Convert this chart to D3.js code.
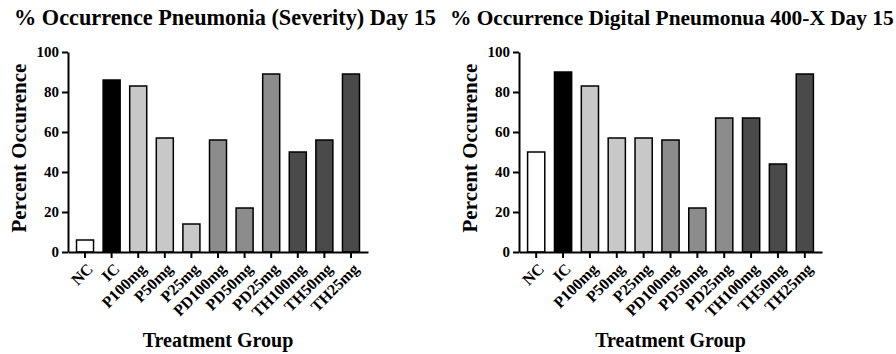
<!DOCTYPE html>
<html>
<head>
<meta charset="utf-8">
<script src="https://cdn.jsdelivr.net/npm/d3@7"></script>
<style>
  html, body { margin: 0; padding: 0; background: #fff; }
  svg { display: block; font-family: "Liberation Serif", "Times New Roman", serif; font-weight: bold; }
</style>
</head>
<body>
<div id="chart"></div>
<script>
const groups = ['NC', 'IC', 'P100mg', 'P50mg', 'P25mg', 'PD100mg', 'PD50mg', 'PD25mg', 'TH100mg', 'TH50mg', 'TH25mg'];
const severityValues = [6, 86, 83, 57, 14, 56, 22, 89, 50, 56, 89];
const digitalValues = [50, 90, 83, 57, 57, 56, 22, 67, 67, 44, 89];
const yTicks = [0, 20, 40, 60, 80, 100];
const titles = ['% Occurrence Pneumonia (Severity) Day 15', '% Occurrence Digital Pneumonua 400-X Day 15'];

const width = 896, height = 354;
const svg = d3.select('#chart').append('svg').attr('width', width).attr('height', height);

// fill per treatment family
const fill = d3.scaleOrdinal()
  .domain(groups)
  .range(['#ffffff', '#000000', '#c8c8c8', '#c8c8c8', '#c8c8c8', '#8c8c8c', '#8c8c8c', '#8c8c8c', '#4a4a4a', '#4a4a4a', '#4a4a4a']);

const y = d3.scaleLinear().domain([0, 100]).range([252, 52]);

function drawPanel(values, title, x0, x1, titleX, titleW) {
  const g = svg.append('g');
  const x = d3.scaleBand().domain(groups).range([x0, x1]).paddingInner(0.36).paddingOuter(0.32);

  const t = g.append('text')
    .attr('x', titleX)
    .attr('y', 25)
    .attr('font-size', '22px')
    .text(title);
  // shrink the title so it fits its slot
  const tw = t.node().getComputedTextLength();
  t.attr('font-size', (22 * titleW / tw).toFixed(2) + 'px');

  g.selectAll('.bar').data(groups.map((gr, i) => ({ group: gr, value: values[i] }))).join('rect')
    .attr('class', 'bar')
    .attr('x', d => x(d.group))
    .attr('y', d => y(d.value))
    .attr('width', x.bandwidth())
    .attr('height', d => y(0) - y(d.value))
    .attr('fill', d => fill(d.group))
    .attr('stroke', '#000')
    .attr('stroke-width', 1.5);

  const yAxis = g.append('g')
    .attr('transform', `translate(${x0},0)`)
    .call(d3.axisLeft(y).tickValues(yTicks).tickSize(6).tickSizeOuter(0).tickPadding(3))
    .attr('font-family', null)
    .attr('font-size', '15px');
  yAxis.selectAll('path, line').attr('stroke', '#000').attr('stroke-width', 2);
  yAxis.selectAll('text').attr('fill', '#000');

  const xAxis = g.append('g')
    .attr('transform', `translate(0,${y(0)})`)
    .call(d3.axisBottom(x).tickSize(6).tickSizeOuter(0))
    .attr('font-family', null)
    .attr('font-size', '16px');
  xAxis.selectAll('path, line').attr('stroke', '#000').attr('stroke-width', 2);
  xAxis.selectAll('text')
    .attr('fill', '#000')
    .attr('text-anchor', 'end')
    .attr('dy', '0.35em')
    .attr('transform', 'translate(5,14) rotate(-45)')
    .attr('y', 0)
    .attr('x', 0);

  g.append('text')
    .attr('transform', `translate(${x0 - 42},${(y(0) + y(100)) / 2 - 4}) rotate(-90)`)
    .attr('text-anchor', 'middle')
    .attr('font-size', '21px')
    .text('Percent Occurence');

  g.append('text')
    .attr('x', (x0 + x1) / 2)
    .attr('y', 347)
    .attr('text-anchor', 'middle')
    .attr('font-size', '20px')
    .text('Treatment Group');
}

drawPanel(severityValues, titles[0], 68, 368, 14, 422);
drawPanel(digitalValues, titles[1], 519, 822, 450, 444);
</script>
</body>
</html>
